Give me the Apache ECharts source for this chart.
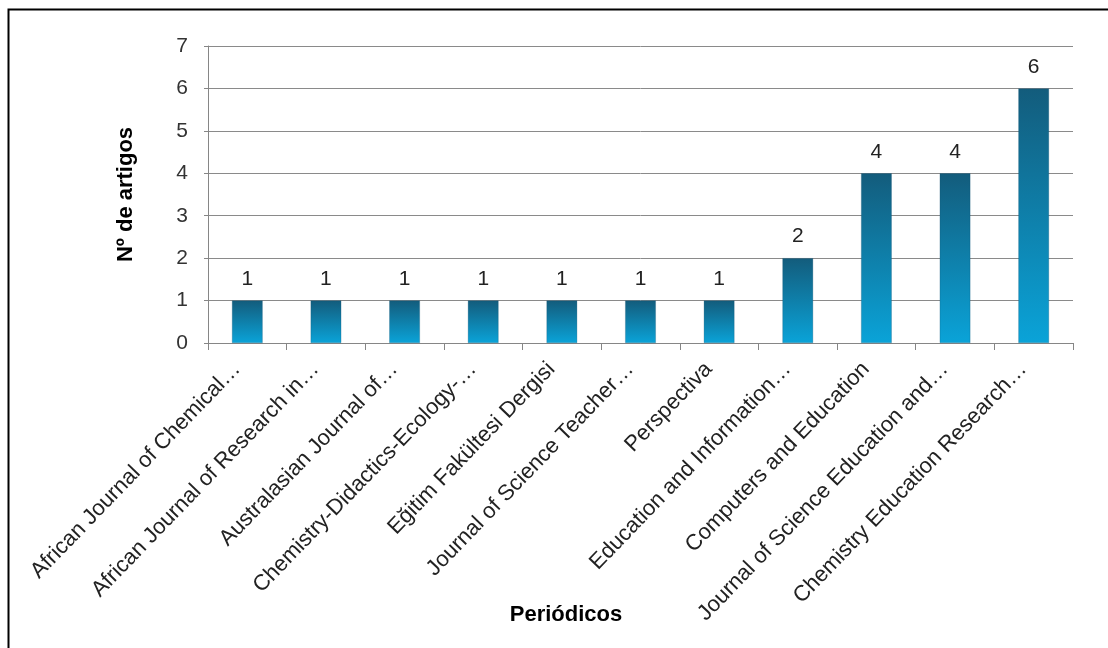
<!DOCTYPE html>
<html>
<head>
<meta charset="utf-8">
<script src="https://cdn.jsdelivr.net/npm/echarts@6/dist/echarts.min.js"></script>
<style>
html,body{margin:0;padding:0;background:#fff;}
#chart{width:1108px;height:648px;}
</style>
</head>
<body>
<div id="chart"></div>
<script>
var categories = [
  "African Journal of Chemical…",
  "African Journal of Research in…",
  "Australasian Journal of…",
  "Chemistry-Didactics-Ecology-…",
  "Eğitim Fakültesi Dergisi",
  "Journal of Science Teacher…",
  "Perspectiva",
  "Education and Information…",
  "Computers and Education",
  "Journal of Science Education and…",
  "Chemistry Education Research…"
];
var articleCounts = [1, 1, 1, 1, 1, 1, 1, 2, 4, 4, 6];
var yAxisTitle = "Nº de artigos";
var xAxisTitle = "Periódicos";

var chart = echarts.init(document.getElementById('chart'), null, {renderer: 'canvas'});
var fontFamily = '"Liberation Sans", Arial, sans-serif';
chart.setOption({
  animation: false,
  backgroundColor: '#ffffff',
  graphic: [{
    type: 'rect',
    left: 6, top: 7,
    shape: {width: 1200, height: 800},
    style: {fill: 'none', stroke: '#000', lineWidth: 2},
    silent: true
  }],
  grid: {left: 208, right: 35, top: 46, bottom: 305, containLabel: false, outerBoundsMode: 'none'},
  xAxis: {
    type: 'category',
    data: categories,
    boundaryGap: true,
    name: xAxisTitle,
    nameLocation: 'middle',
    nameGap: 261,
    nameMoveOverlap: false,
    nameTextStyle: {fontFamily: fontFamily, fontSize: 22, fontWeight: 'bold', color: '#000', padding: [0, 149, 0, 0]},
    axisLine: {lineStyle: {color: '#868686', width: 1}},
    axisTick: {show: true, alignWithLabel: false, length: 7, lineStyle: {color: '#868686'}},
    axisLabel: {rotate: 46, interval: 0, fontFamily: fontFamily, fontSize: 22, color: '#222', margin: 12, padding: [0, 15, 0, 0]}
  },
  yAxis: {
    type: 'value',
    min: 0, max: 7, interval: 1,
    name: yAxisTitle,
    nameLocation: 'middle',
    nameGap: 71,
    nameRotate: 90,
    nameMoveOverlap: false,
    nameTextStyle: {fontFamily: fontFamily, fontSize: 22, fontWeight: 'bold', color: '#000'},
    axisLine: {show: true, lineStyle: {color: '#868686'}},
    axisTick: {show: true, length: 4, lineStyle: {color: '#868686'}},
    axisLabel: {fontFamily: fontFamily, fontSize: 21, color: '#333', margin: 20},
    splitLine: {show: true, lineStyle: {color: '#8a8a8a', width: 1}}
  },
  series: [{
    type: 'bar',
    data: articleCounts,
    barWidth: '39%',
    itemStyle: {
      color: new echarts.graphic.LinearGradient(0, 0, 0, 1, [
        {offset: 0, color: '#135C7C'},
        {offset: 1, color: '#0AA3D8'}
      ]),
      borderColor: 'rgba(20,80,110,0.5)',
      borderWidth: 0.5
    },
    label: {show: true, position: 'top', distance: 11, fontFamily: fontFamily, fontSize: 21, color: '#222'}
  }]
});
</script>
</body>
</html>
